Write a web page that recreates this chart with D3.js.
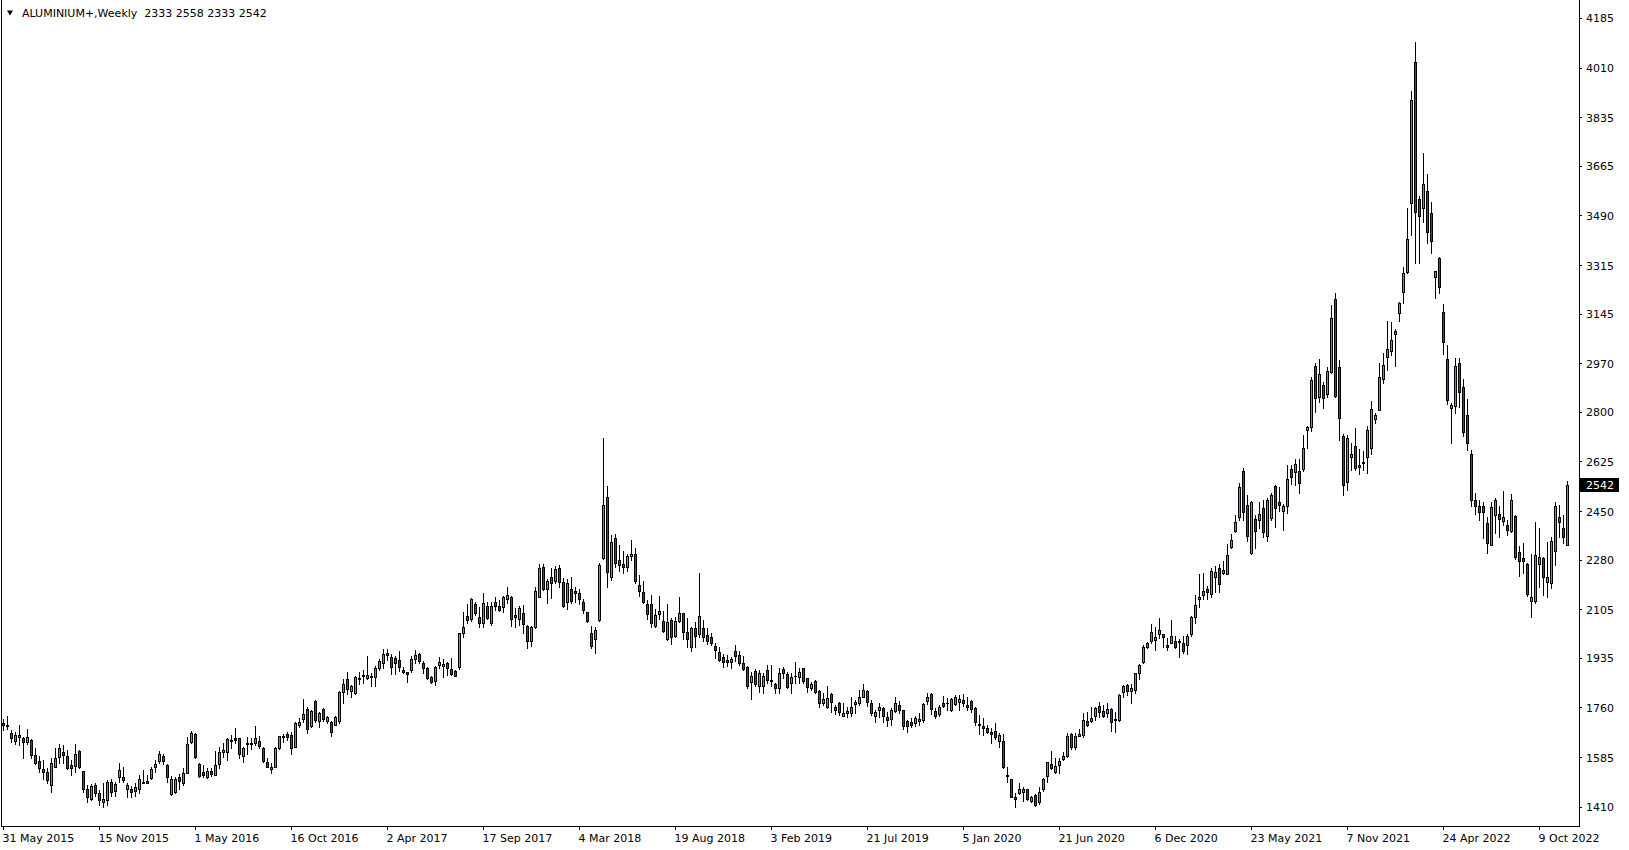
<!DOCTYPE html>
<html><head><meta charset="utf-8">
<script src="https://cdn.jsdelivr.net/npm/d3@7"></script>
<style>html,body{margin:0;padding:0;background:#fff;overflow:hidden}svg{display:block}</style>
</head><body><svg id="c" width="1629" height="850"></svg>
<script>
const symbolTitle = "ALUMINIUM+,Weekly  2333 2558 2333 2542";
const lastPrice = 2542;
const dateLabels = ["31 May 2015","15 Nov 2015","1 May 2016","16 Oct 2016","2 Apr 2017","17 Sep 2017","4 Mar 2018","19 Aug 2018","3 Feb 2019","21 Jul 2019","5 Jan 2020","21 Jun 2020","6 Dec 2020","23 May 2021","7 Nov 2021","24 Apr 2022","9 Oct 2022"];
const dateLabelIndex = [0,24,48,72,96,120,144,168,192,216,240,264,288,312,336,360,384];
const priceTicks = [4185,4010,3835,3665,3490,3315,3145,2970,2800,2625,2450,2280,2105,1935,1760,1585,1410];

const opens = [
1707,1697,1671,1643,1655,1651,1639,1645,1593,1573,
1543,1534,1489,1549,1587,1604,1589,1557,1554,1607,
1536,1475,1439,1487,1458,1426,1434,1498,1467,1516,
1514,1475,1474,1467,1472,1499,1501,1513,1549,1573,
1588,1557,1455,1464,1514,1493,1528,1639,1665,1561,
1532,1514,1536,1523,1560,1602,1602,1643,1652,1651,
1590,1630,1633,1636,1642,1617,1568,1542,1549,1616,
1655,1665,1663,1622,1699,1720,1754,1696,1783,1713,
1754,1713,1708,1699,1713,1813,1860,1819,1812,1861,
1870,1862,1872,1868,1897,1915,1950,1936,1934,1927,
1892,1884,1890,1929,1948,1915,1898,1866,1852,1911,
1907,1915,1894,1887,1904,2021,2083,2071,2123,2077,
2058,2117,2058,2130,2116,2112,2142,2147,2085,2070,
2091,2047,1992,2044,2150,2253,2178,2218,2206,2249,
2200,2132,2176,2168,2161,2130,2095,2023,2002,2068,
2285,2499,2220,2355,2279,2265,2255,2294,2300,2191,
2165,2124,2124,2048,2087,2064,2002,2068,2013,2063,
2092,2024,1972,2038,2017,2038,2015,2007,1976,1954,
1937,1927,1921,1960,1945,1917,1904,1849,1887,1837,
1837,1892,1857,1843,1830,1895,1878,1845,1871,1866,
1898,1862,1830,1853,1819,1777,1760,1807,1762,1777,
1731,1739,1739,1771,1774,1798,1818,1777,1731,1751,
1757,1725,1718,1749,1769,1751,1714,1708,1707,1714,
1716,1783,1806,1748,1737,1777,1774,1751,1772,1780,
1786,1769,1783,1757,1702,1694,1687,1675,1677,1642,
1642,1522,1507,1444,1460,1463,1473,1432,1452,1428,
1474,1520,1560,1534,1557,1580,1590,1666,1622,1660,
1664,1711,1713,1731,1765,1746,1739,1753,1719,1716,
1815,1839,1819,1821,1882,1921,1974,1992,1997,2020,
2018,1978,1988,1993,1989,1985,1981,2020,2079,2140,
2157,2176,2159,2217,2249,2234,2231,2325,2381,2428,
2591,2472,2304,2421,2419,2463,2364,2425,2538,2481,
2452,2468,2597,2589,2591,2597,2736,2745,2961,2850,
2893,2861,2941,3195,2956,2714,2554,2639,2679,2613,
2618,2642,2671,2773,2806,2914,2991,3015,3072,3146,
3222,3292,3533,4028,3547,3515,3575,3497,3272,3339,
3149,2987,2812,2821,2970,2886,2788,2650,2490,2468,
2468,2407,2333,2436,2439,2417,2401,2382,2433,2305,
2284,2263,2135,2135,2263,2284,2202,2196,2311,2431,
2392,2333];

const highs = [
1721,1730,1680,1675,1698,1657,1683,1648,1619,1589,
1577,1546,1581,1616,1631,1628,1610,1575,1631,1610,
1536,1487,1491,1495,1469,1493,1505,1507,1498,1566,
1549,1495,1483,1495,1522,1540,1522,1549,1575,1607,
1598,1561,1519,1516,1526,1546,1655,1676,1671,1566,
1557,1546,1546,1608,1620,1634,1651,1663,1687,1654,
1622,1655,1651,1695,1659,1620,1581,1563,1620,1659,
1666,1675,1675,1709,1722,1790,1760,1751,1786,1745,
1757,1730,1713,1730,1819,1859,1886,1839,1870,1886,
1892,1941,1882,1906,1929,1964,1964,1948,1941,1960,
1901,1886,1941,1962,1951,1925,1901,1871,1906,1936,
1929,1921,1933,1892,2023,2097,2124,2144,2132,2112,
2164,2130,2132,2147,2138,2152,2183,2152,2109,2117,
2120,2050,2047,2185,2265,2265,2211,2249,2258,2261,
2214,2211,2218,2183,2176,2140,2097,2047,2042,2267,
2706,2539,2367,2370,2331,2310,2300,2349,2320,2226,
2203,2138,2156,2106,2152,2099,2124,2074,2077,2147,
2092,2074,2044,2062,2232,2068,2038,2021,1986,1974,
1947,1945,1937,1980,1959,1941,1906,1884,1894,1890,
1880,1910,1910,1847,1898,1901,1883,1880,1921,1898,
1898,1862,1851,1857,1821,1810,1835,1812,1769,1780,
1774,1763,1798,1786,1821,1842,1821,1786,1751,1774,
1763,1745,1757,1796,1784,1751,1716,1722,1730,1739,
1777,1812,1810,1757,1769,1800,1792,1792,1804,1804,
1806,1798,1786,1760,1733,1722,1698,1687,1704,1669,
1666,1549,1507,1458,1495,1479,1475,1448,1454,1479,
1511,1569,1607,1581,1581,1604,1669,1669,1669,1686,
1739,1745,1763,1763,1778,1768,1774,1757,1745,1806,
1839,1842,1842,1882,1913,1979,1991,2055,2044,2073,
2020,2003,2067,2011,1999,2011,2018,2081,2155,2229,
2234,2187,2249,2257,2264,2275,2334,2370,2436,2548,
2601,2507,2487,2436,2483,2489,2495,2515,2542,2536,
2475,2612,2612,2632,2632,2718,2749,2923,2970,2984,
2906,2956,3175,3216,2982,2722,2718,2689,2741,2668,
2663,2751,2838,2797,2970,3007,3120,3116,3090,3187,
3308,3515,3928,4099,3558,3708,3636,3536,3296,3343,
3179,3034,2832,2988,2988,2914,2845,2665,2515,2490,
2484,2431,2484,2495,2468,2522,2419,2510,2437,2329,
2337,2267,2300,2413,2390,2288,2343,2360,2484,2472,
2437,2558];

const lows = [
1680,1683,1639,1633,1628,1581,1633,1581,1561,1534,
1510,1495,1464,1549,1566,1566,1542,1522,1534,1546,
1464,1428,1434,1448,1417,1411,1417,1448,1448,1499,
1499,1446,1444,1448,1460,1493,1493,1510,1534,1566,
1561,1499,1451,1458,1475,1487,1528,1636,1581,1514,
1516,1511,1519,1523,1546,1587,1577,1616,1634,1581,
1567,1598,1613,1628,1616,1569,1549,1530,1549,1613,
1639,1645,1595,1620,1692,1710,1669,1692,1710,1692,
1713,1706,1659,1698,1706,1777,1809,1798,1809,1842,
1845,1859,1835,1835,1892,1897,1927,1877,1877,1889,
1880,1851,1883,1915,1915,1880,1859,1845,1839,1898,
1866,1874,1874,1871,1894,2009,2058,2065,2085,2042,
2044,2070,2050,2101,2099,2097,2126,2047,2044,2050,
2023,1970,1976,2041,2150,2173,2129,2144,2197,2185,
2115,2106,2126,2132,2124,2091,2061,1968,1953,2065,
2283,2185,2208,2255,2241,2232,2241,2279,2197,2152,
2129,2070,2042,2042,2070,2026,1997,1982,2007,2062,
2002,1974,1960,1974,2009,1995,1983,1980,1933,1925,
1904,1906,1898,1925,1910,1892,1828,1789,1837,1816,
1810,1845,1836,1812,1812,1863,1828,1812,1845,1845,
1845,1815,1821,1812,1763,1769,1757,1745,1737,1733,
1730,1725,1730,1739,1769,1796,1765,1733,1710,1728,
1710,1695,1698,1745,1739,1683,1675,1692,1695,1698,
1710,1772,1737,1722,1730,1763,1751,1749,1769,1751,
1765,1751,1745,1698,1667,1663,1671,1636,1648,1620,
1546,1499,1444,1411,1455,1432,1434,1428,1414,1419,
1467,1499,1543,1531,1531,1575,1587,1613,1613,1659,
1657,1695,1709,1716,1727,1725,1725,1677,1675,1713,
1798,1804,1777,1812,1860,1915,1968,1988,1962,2003,
1971,1962,1985,1968,1938,1952,1948,2011,2056,2114,
2140,2140,2149,2167,2167,2231,2229,2319,2378,2419,
2419,2346,2299,2319,2390,2360,2346,2419,2395,2452,
2384,2445,2545,2542,2513,2592,2671,2733,2800,2835,
2814,2853,2937,2850,2700,2507,2525,2595,2595,2581,
2595,2583,2651,2761,2806,2902,2947,2999,2961,3120,
3183,3286,3421,3322,3322,3468,3392,3359,3199,3218,
3002,2826,2691,2794,2818,2714,2665,2470,2440,2420,
2355,2304,2333,2375,2358,2401,2366,2378,2281,2223,
2234,2152,2077,2128,2185,2155,2149,2181,2261,2358,
2339,2333];

const closes = [
1700,1694,1651,1663,1663,1639,1655,1593,1566,1546,
1532,1505,1566,1584,1616,1594,1548,1548,1596,1549,
1472,1446,1483,1458,1434,1438,1499,1464,1491,1540,
1505,1487,1464,1480,1510,1493,1493,1544,1561,1595,
1573,1514,1510,1510,1502,1530,1633,1669,1587,1519,
1524,1538,1526,1557,1602,1610,1648,1646,1647,1595,
1617,1634,1634,1651,1625,1573,1549,1551,1617,1658,
1659,1657,1616,1704,1709,1737,1683,1746,1716,1739,
1718,1725,1675,1725,1815,1842,1824,1835,1867,1863,
1874,1873,1866,1898,1923,1948,1944,1901,1918,1901,
1884,1876,1931,1943,1925,1900,1865,1851,1901,1921,
1912,1897,1878,1872,2021,2044,2068,2140,2093,2056,
2126,2076,2116,2116,2103,2147,2154,2072,2079,2109,
2052,1992,2042,2170,2249,2177,2205,2197,2246,2202,
2118,2197,2135,2164,2140,2101,2065,1977,2033,2261,
2472,2238,2341,2269,2261,2255,2293,2300,2206,2171,
2130,2087,2056,2085,2099,2030,2060,2009,2063,2092,
2024,1999,2038,2011,2082,2009,1995,1988,1962,1927,
1921,1921,1931,1942,1918,1896,1837,1872,1842,1880,
1872,1857,1854,1828,1880,1880,1833,1866,1869,1883,
1854,1833,1842,1815,1777,1789,1792,1780,1751,1743,
1739,1748,1760,1780,1796,1821,1780,1739,1744,1763,
1731,1716,1751,1774,1751,1696,1696,1698,1722,1719,
1772,1796,1755,1731,1760,1765,1777,1789,1798,1789,
1774,1763,1753,1710,1698,1689,1675,1665,1657,1663,
1549,1519,1446,1439,1472,1473,1438,1444,1416,1461,
1507,1567,1546,1554,1571,1589,1659,1622,1659,1666,
1715,1697,1723,1758,1745,1731,1753,1710,1717,1804,
1835,1817,1830,1880,1909,1971,1986,2025,2006,2031,
2009,1974,2011,1971,1993,1959,2013,2077,2119,2147,
2170,2167,2241,2235,2193,2245,2296,2349,2411,2536,
2446,2364,2484,2381,2442,2378,2489,2507,2463,2472,
2468,2565,2569,2615,2548,2671,2745,2911,2847,2931,
2847,2943,3128,2855,2777,2542,2706,2651,2601,2607,
2623,2736,2809,2788,2921,2964,3019,3052,3084,3181,
3289,3406,3896,3503,3489,3601,3433,3401,3293,3237,
3044,2841,2824,2961,2870,2727,2689,2490,2470,2448,
2446,2339,2464,2489,2421,2428,2384,2489,2290,2276,
2276,2159,2147,2296,2288,2218,2218,2345,2468,2413,
2358,2542];

const BULL = "#1fd11f", BEAR = "#d40f0f";
const FONT = "DejaVu Sans";
const W = 1629, H = 850, plotRight = 1579, plotBottom = 826;

const svg = d3.select("#c").attr("shape-rendering","crispEdges");
svg.append("rect").attr("width",W).attr("height",H).attr("fill","#fff");

const x = d3.scaleLinear().domain([0, opens.length - 1]).range([3, 3 + 4 * (opens.length - 1)]);
const y = d3.scaleLinear().domain([1410, 4185]).range([807, 17.8]);

const data = opens.map((o, i) => ({i, o, h: highs[i], l: lows[i], c: closes[i]}));

// frame
svg.append("line").attr("x1",1.5).attr("x2",1.5).attr("y1",0).attr("y2",plotBottom).attr("stroke","#000");
svg.append("line").attr("x1",plotRight+0.5).attr("x2",plotRight+0.5).attr("y1",0).attr("y2",plotBottom+1).attr("stroke","#000");
svg.append("line").attr("x1",1).attr("x2",plotRight+1).attr("y1",plotBottom+0.5).attr("y2",plotBottom+0.5).attr("stroke","#000");

// candles
const g = svg.append("g");
const cg = g.selectAll("g.c").data(data).join("g").attr("class","c");
cg.append("rect")
  .attr("x", d => Math.round(x(d.i)))
  .attr("y", d => Math.round(y(d.h)))
  .attr("width", 1)
  .attr("height", d => Math.max(1, Math.round(y(d.l)) - Math.round(y(d.h)) + 1))
  .attr("fill", "#000");
cg.append("rect")
  .attr("x", d => Math.round(x(d.i)) - 1)
  .attr("y", d => Math.round(y(Math.max(d.o, d.c))))
  .attr("width", 3)
  .attr("height", d => Math.round(y(Math.min(d.o, d.c))) - Math.round(y(Math.max(d.o, d.c))) + 1)
  .attr("fill", "#000");
cg.filter(d => Math.round(y(Math.min(d.o, d.c))) - Math.round(y(Math.max(d.o, d.c))) >= 2)
  .append("rect")
  .attr("x", d => Math.round(x(d.i)))
  .attr("y", d => Math.round(y(Math.max(d.o, d.c))) + 1)
  .attr("width", 1)
  .attr("height", d => Math.round(y(Math.min(d.o, d.c))) - Math.round(y(Math.max(d.o, d.c))) - 1)
  .attr("fill", d => d.c >= d.o ? BULL : BEAR);

// price axis
const ya = svg.append("g").attr("transform", `translate(${plotRight},0)`)
  .call(d3.axisRight(y).tickValues(priceTicks).tickSize(3).tickPadding(4).tickFormat(d3.format("d")));
ya.select(".domain").remove();
ya.selectAll("text").attr("font-family", FONT).attr("font-size", 11).attr("fill", "#000")
  .attr("dy", "0.36em");
ya.selectAll("line").attr("stroke", "#000");

// time axis
const xa = svg.append("g").attr("transform", `translate(0,${plotBottom})`)
  .call(d3.axisBottom(x).tickValues(dateLabelIndex).tickSize(4).tickFormat((d, k) => dateLabels[k]));
xa.select(".domain").remove();
xa.selectAll("line").attr("stroke", "#000");
xa.selectAll("text").attr("font-family", FONT).attr("font-size", 11).attr("fill", "#000")
  .attr("text-anchor", "start").attr("x", -1).attr("y", 16).attr("dy", 0);

// current price label
const lp = Math.round(y(lastPrice));
svg.append("rect").attr("x", plotRight + 1).attr("y", lp - 7).attr("width", 39).attr("height", 14).attr("fill", "#000");
svg.append("text").attr("x", plotRight + 7).attr("y", lp + 4).attr("font-family", FONT).attr("font-size", 11)
  .attr("fill", "#fff").text(lastPrice);

// title
svg.append("path").attr("d", "M7,10.5 L13,10.5 L10,15.5 Z").attr("fill", "#000").attr("shape-rendering","auto");
svg.append("text").attr("x", 22).attr("y", 17).attr("font-family", FONT).attr("font-size", 11)
  .attr("fill", "#000").attr("xml:space","preserve").style("white-space","pre").text(symbolTitle);
</script>
</body></html>
